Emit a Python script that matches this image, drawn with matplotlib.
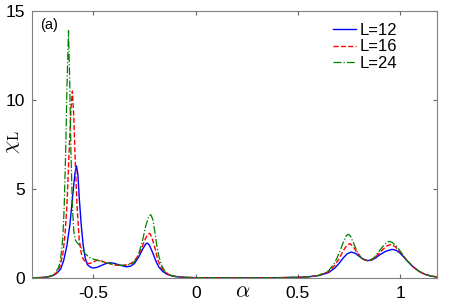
import matplotlib
matplotlib.use('Agg')
import matplotlib.pyplot as plt

plt.rcParams['font.family'] = ['Liberation Sans', 'DejaVu Sans']
plt.rcParams['mathtext.fontset'] = 'cm'

# L=12 (azul)
a12 = [-0.8, -0.75, -0.72, -0.70, -0.68, -0.66, -0.645, -0.63, -0.615, -0.60,
       -0.59, -0.583, -0.576, -0.57, -0.56, -0.55, -0.54, -0.53, -0.515, -0.50,
       -0.48, -0.46, -0.44, -0.42, -0.40, -0.38, -0.36, -0.34, -0.32, -0.30,
       -0.28, -0.26, -0.245, -0.235, -0.225, -0.21, -0.195, -0.18, -0.16, -0.14,
       -0.12, -0.10, -0.05, 0.0, 0.2, 0.4, 0.5, 0.55, 0.60, 0.65,
       0.68, 0.70, 0.72, 0.74, 0.76, 0.78, 0.80, 0.82, 0.84, 0.86,
       0.88, 0.90, 0.93, 0.96, 0.98, 1.00, 1.03, 1.06, 1.09, 1.12,
       1.15, 1.18]
x12 = [0.0, 0.02, 0.06, 0.12, 0.25, 0.5, 1.0, 1.8, 3.0, 4.8,
       5.9, 6.3, 5.8, 4.6, 3.0, 1.8, 1.1, 0.75, 0.6, 0.55,
       0.6, 0.7, 0.8, 0.85, 0.82, 0.75, 0.68, 0.62, 0.65, 0.8,
       1.15, 1.6, 1.9, 1.95, 1.8, 1.4, 0.95, 0.6, 0.35, 0.2,
       0.12, 0.07, 0.03, 0.01, 0.0, 0.01, 0.03, 0.06, 0.12, 0.3,
       0.55, 0.8, 1.1, 1.35, 1.45, 1.38, 1.2, 1.05, 0.97, 1.0,
       1.12, 1.3, 1.5, 1.6, 1.55, 1.38, 1.0, 0.65, 0.38, 0.2,
       0.1, 0.05]

# L=16 (vermelho)
a16 = [-0.8, -0.75, -0.72, -0.70, -0.68, -0.665, -0.65, -0.64, -0.63, -0.62,
       -0.61, -0.603, -0.596, -0.589, -0.58, -0.57, -0.56, -0.55, -0.535, -0.52,
       -0.50, -0.48, -0.46, -0.44, -0.42, -0.40, -0.37, -0.34, -0.31, -0.29,
       -0.27, -0.25, -0.235, -0.225, -0.215, -0.20, -0.185, -0.17, -0.15, -0.13,
       -0.11, -0.08, -0.04, 0.0, 0.2, 0.4, 0.5, 0.55, 0.60, 0.65,
       0.68, 0.70, 0.72, 0.74, 0.755, 0.77, 0.79, 0.81, 0.83, 0.85,
       0.87, 0.89, 0.91, 0.935, 0.955, 0.975, 1.00, 1.03, 1.06, 1.09,
       1.12, 1.15, 1.18]
x16 = [0.0, 0.02, 0.06, 0.12, 0.28, 0.6, 1.3, 2.3, 4.0, 6.8,
       9.5, 10.5, 9.0, 6.5, 4.0, 2.2, 1.4, 1.05, 0.85, 0.8,
       0.9, 1.0, 0.95, 0.85, 0.8, 0.72, 0.7, 0.72, 0.85, 1.1,
       1.5, 2.1, 2.45, 2.5, 2.3, 1.7, 1.0, 0.6, 0.32, 0.18,
       0.1, 0.05, 0.02, 0.01, 0.0, 0.01, 0.03, 0.06, 0.13, 0.35,
       0.7, 1.05, 1.5, 1.85, 1.92, 1.75, 1.4, 1.12, 0.98, 0.97,
       1.08, 1.3, 1.55, 1.8, 1.88, 1.75, 1.45, 1.02, 0.65, 0.38,
       0.2, 0.1, 0.05]

# L=24 (verde)
a24 = [-0.8, -0.75, -0.72, -0.70, -0.685, -0.67, -0.66, -0.65, -0.643, -0.636,
       -0.63, -0.622, -0.616, -0.61, -0.603, -0.596, -0.588, -0.578, -0.568, -0.555,
       -0.54, -0.52, -0.50, -0.48, -0.46, -0.44, -0.41, -0.38, -0.35, -0.32,
       -0.30, -0.28, -0.26, -0.245, -0.23, -0.22, -0.21, -0.20, -0.19, -0.18,
       -0.165, -0.15, -0.13, -0.11, -0.08, -0.04, 0.0, 0.2, 0.4, 0.5,
       0.55, 0.60, 0.65, 0.68, 0.70, 0.72, 0.735, 0.745, 0.755, 0.77,
       0.79, 0.81, 0.83, 0.85, 0.87, 0.89, 0.91, 0.93, 0.945, 0.96,
       0.98, 1.00, 1.03, 1.06, 1.09, 1.12, 1.15, 1.18]
x24 = [0.0, 0.02, 0.07, 0.15, 0.3, 0.6, 1.1, 2.2, 4.0, 7.0,
       10.5, 13.9, 11.0, 7.0, 4.0, 2.6, 2.1, 1.95, 1.85, 1.6,
       1.35, 1.15, 1.05, 0.98, 0.92, 0.85, 0.78, 0.72, 0.7, 0.75,
       0.9, 1.3, 2.1, 2.9, 3.45, 3.55, 3.3, 2.6, 1.8, 1.2,
       0.65, 0.35, 0.18, 0.1, 0.05, 0.02, 0.01, 0.0, 0.01, 0.03,
       0.06, 0.14, 0.4, 0.85, 1.35, 1.95, 2.35, 2.45, 2.38, 2.0,
       1.45, 1.1, 0.97, 0.98, 1.12, 1.4, 1.7, 1.95, 2.05, 2.0,
       1.8, 1.5, 1.02, 0.65, 0.38, 0.2, 0.1, 0.05]

xticks = [-0.5, 0, 0.5, 1]
xlabels = ['-0.5', '0', '0.5', '1']
yticks = [0, 5, 10, 15]

fig = plt.figure(figsize=(4.52, 3.06), dpi=100)
ax = fig.add_axes([0.071, 0.092, 0.896, 0.872])

ax.plot(a12, x12, '-', color='b', lw=1.0, label='L=12')
ax.plot(a16, x16, '--', color='r', lw=1.0, label='L=16')
ax.plot(a24, x24, '-.', color=(0, 0.5, 0), lw=0.9, label='L=24')

ax.set_xlim(-0.8, 1.18)
ax.set_ylim(0, 15)
ax.set_xticks(xticks)
ax.set_xticklabels(xlabels)
ax.set_yticks(yticks)
ax.tick_params(direction='in', top=True, right=True, labelsize=12.5,
               length=3, color='0.4')
ax.tick_params(axis='x', pad=6)
ax.tick_params(axis='y', pad=5)
for s in ax.spines.values():
    s.set_color('0.5')
    s.set_linewidth(0.8)

# rotulos dos eixos
fig.text(0.028, 0.535, r'$\chi_{\rm L}$', fontsize=15, rotation=90,
         ha='center', va='center')
fig.text(0.537, 0.012, r'$\alpha$', fontsize=16, ha='center', va='bottom')
ax.text(0.02, 0.975, '(a)', transform=ax.transAxes, fontsize=10.5,
        va='top', ha='left')

ax.legend(loc='upper right', frameon=False, fontsize=12, handlelength=1.4,
          handletextpad=0.2, labelspacing=0.1, borderaxespad=0.3,
          bbox_to_anchor=(0.93, 1.0))

plt.savefig('out.png', dpi=100)
